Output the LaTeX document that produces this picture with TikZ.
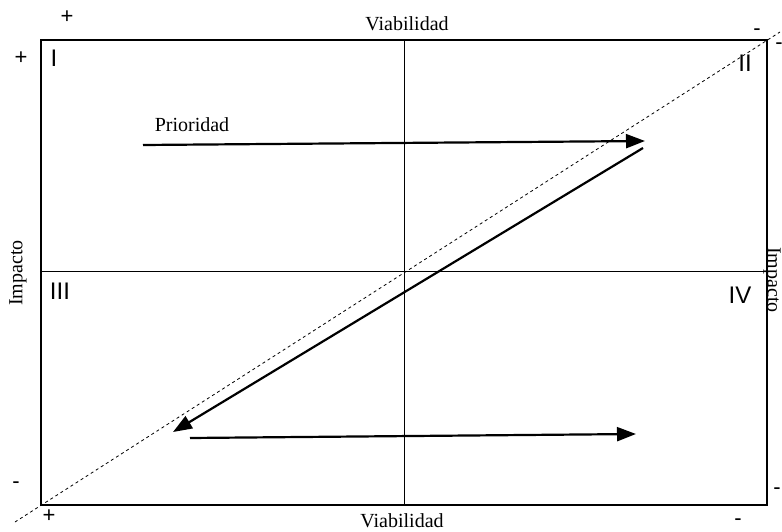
\documentclass[tikz,border=0pt]{standalone}
\usepackage{fontspec}
\setmainfont{Liberation Serif}
\newfontfamily\numfont{Liberation Sans}
\usetikzlibrary{arrows.meta}
\begin{document}
\begin{tikzpicture}[x=1pt,y=-1pt,
  lbl/.style={font=\fontsize{20}{22}\selectfont, inner sep=0pt},
  roman/.style={font=\numfont\fontsize{24}{26}\selectfont, inner sep=0pt},
  sgn/.style={font=\numfont\fontsize{22}{24}\selectfont, inner sep=0pt},
  frame/.style={line width=2.8pt},
  axis/.style={line width=0.9pt},
  diag/.style={line width=0.8pt, dash pattern=on 3pt off 3pt},
  bigarrow/.style={line width=2.2pt, -{Triangle[length=19pt,width=14pt]}}]
\useasboundingbox (0,0) rectangle (782,532);
% frame
\coordinate (tl) at (41,40);
\coordinate (br) at (767,505);
\draw[frame] (tl) rectangle (br);
% axes
\coordinate (vt) at (404,40);
\coordinate (vb) at (404,505);
\coordinate (hl) at (41,271);
\coordinate (hr) at (767,271);
\draw[axis] (vt) -- (vb);
\draw[axis] (hl) -- (hr);
% diagonal
\coordinate (d1) at (15,522);
\coordinate (d2) at (780,32);
\draw[diag] (d1) -- (d2);
% arrows
\coordinate (a1s) at (143,145);
\coordinate (a1e) at (645,141);
\draw[bigarrow] (a1s) -- (a1e);
\coordinate (a2s) at (643,148);
\coordinate (a2e) at (173,432);
\draw[bigarrow] (a2s) -- (a2e);
\coordinate (a3s) at (190,438);
\coordinate (a3e) at (636,434);
\draw[bigarrow] (a3s) -- (a3e);
% labels
\node[lbl] (prio) at (192,125) {Prioridad};
\node[lbl] (vtop) at (407,24) {Viabilidad};
\node[lbl] (vbot) at (402,521) {Viabilidad};
\node[lbl, rotate=90] (impl) at (18,273) {Impacto};
\node[lbl, rotate=-90] (impr) at (772,280) {Impacto};
% quadrants
\node[roman] (q1) at (54,58) {I};
\node[roman] (q2) at (745,63) {II};
\node[roman] (q3) at (60,291) {III};
\node[roman] (q4) at (740,295) {IV};
% signs
\node[sgn] (s1) at (67,17) {+};
\node[sgn] (s2) at (21,58) {+};
\node[sgn] (s3) at (757,32) {-};
\node[sgn] (s4) at (779,46) {-};
\node[sgn] (s5) at (16,485) {-};
\node[sgn] (s6) at (49,516) {+};
\node[sgn] (s7) at (777,491) {-};
\node[sgn] (s8) at (738,522) {-};
\end{tikzpicture}
\end{document}
